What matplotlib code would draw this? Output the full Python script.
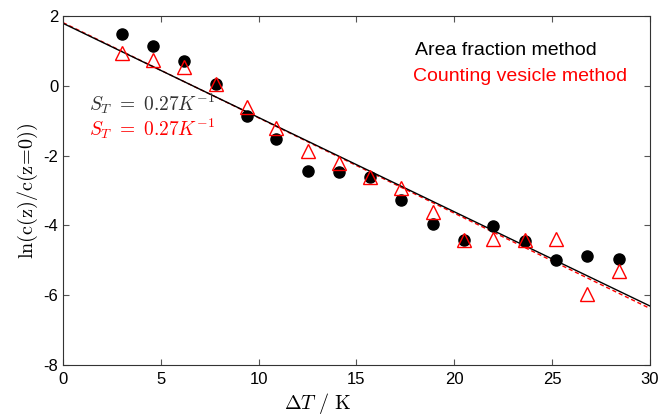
import numpy as np
import matplotlib
matplotlib.use("Agg")
import matplotlib.pyplot as plt

# temperature difference (K)
delta_t = [3.0, 4.6, 6.2, 7.8, 9.4, 10.9, 12.5, 14.1, 15.7, 17.3, 18.9, 20.5, 22.0, 23.6, 25.2, 26.8, 28.4]
# area fraction method
ln_area = [1.47, 1.15, 0.70, 0.05, -0.88, -1.52, -2.45, -2.48, -2.62, -3.27, -3.97, -4.42, -4.02, -4.45, -4.98, -4.87, -4.95]
# counting vesicle method
ln_count = [0.95, 0.75, 0.55, 0.05, -0.62, -1.22, -1.86, -2.20, -2.62, -2.92, -3.62, -4.42, -4.40, -4.42, -4.40, -5.98, -5.30]

# linear fits: intercept, slope
fit_area = [1.79, -0.270]
fit_count = [1.81, -0.273]
fit_range = [0, 30]

plt.rcParams['font.family'] = ['Liberation Sans', 'DejaVu Sans']
plt.rcParams['mathtext.fontset'] = 'cm'
plt.rcParams['axes.unicode_minus'] = False

fig = plt.figure(figsize=(6.61, 4.16), dpi=100)
ax = fig.add_axes([0.0953, 0.1226, 0.888, 0.839])

xs = np.array(fit_range, dtype=float)
ax.plot(xs, fit_count[0] + fit_count[1] * xs, color='red', lw=1.0, ls=(0, (3, 2)))
ax.plot(xs, fit_area[0] + fit_area[1] * xs, color='black', lw=1.0)

ax.plot(delta_t, ln_area, 'o', color='black', ms=8, ls='none')
ax.plot(delta_t, ln_count, '^', mfc='none', mec='red', mew=1.0, ms=10, ls='none')

ax.text(1.35, -0.5, r'$S_T\ =\ 0.27K^{-1}$', color='#333333', fontsize=14, va='center')
ax.text(1.35, -1.22, r'$S_T\ =\ 0.27K^{-1}$', color='red', fontsize=14, va='center')
ax.text(18.0, 1.0, 'Area fraction method', color='black', fontsize=14, va='center')
ax.text(17.9, 0.28, 'Counting vesicle method', color='red', fontsize=14, va='center')

ax.set_xlim(0, 30)
ax.set_ylim(-8, 2)
ax.set_xticks([0, 5, 10, 15, 20, 25, 30])
ax.set_yticks([-8, -6, -4, -2, 0, 2])
ax.tick_params(direction='in', top=True, right=True, labelsize=12, length=4, color='#555555')
ax.tick_params(axis='x', pad=5)
for s in ax.spines.values():
    s.set_color('#333333')
    s.set_linewidth(0.8)

ax.set_xlabel(r'$\Delta T\ /\ \mathrm{K}$', fontsize=14.5)
ax.xaxis.set_label_coords(0.433, -0.075)
ax.set_ylabel(r'$\mathrm{ln(c(z)/c(z\!=\!0))}$', fontsize=14.5, labelpad=2)

fig.savefig('out.png', dpi=100)
